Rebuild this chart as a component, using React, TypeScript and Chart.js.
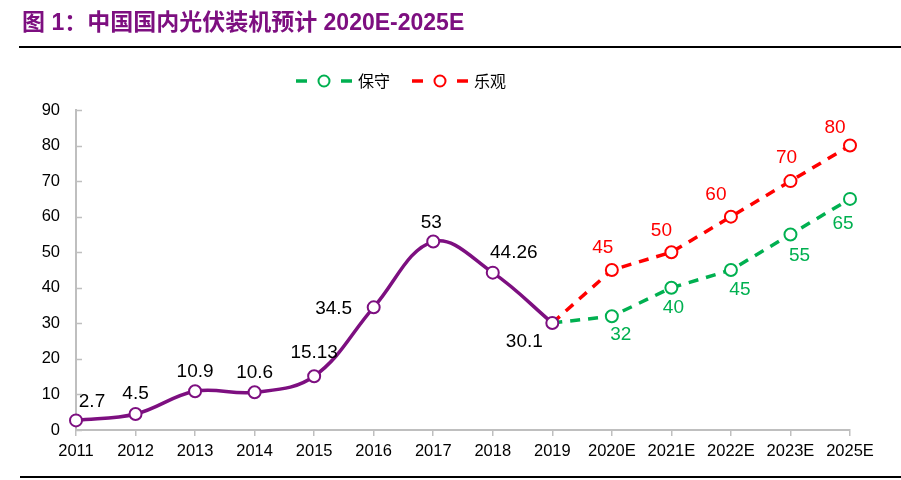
import React, { useEffect, useRef } from "react";
import { Chart, registerables } from "chart.js";

Chart.register(...registerables);

// ---------- data ----------
const categories = [
  "2011", "2012", "2013", "2014", "2015", "2016", "2017", "2018", "2019",
  "2020E", "2021E", "2022E", "2023E", "2025E",
];
const historyValues = [2.7, 4.5, 10.9, 10.6, 15.13, 34.5, 53, 44.26, 30.1];
// forecasts start at 2019 (joined to the last actual value)
const conservativeValues = [30.1, 32, 40, 45, 55, 65];
const optimisticValues = [30.1, 45, 50, 60, 70, 80];
const seriesNames = ["实际", "保守", "乐观"];
const yMin = 0;
const yMax = 90;
const yStep = 10;

// ---------- styles ----------
const PURPLE = "#7D0F80";
const GREEN = "#00B050";
const RED = "#FF0000";
const AXIS = "#BFBFBF";
const LATIN = "'Liberation Sans', Arial, sans-serif";
const CJK = "'Noto Sans CJK SC', sans-serif";

// label offsets (px) relative to each point
const historyLabelOffsets: [number, number][] = [
  [16, -19], [0, -20], [0, -19], [0, -20], [0, -23], [-40, 1], [-2, -19], [21, -20], [-28, 19],
];
const conservativeLabelOffsets: [number, number][] = [
  [0, 0], [9, 19], [2, 20], [9, 20], [9, 21], [-7, 25],
];
const optimisticLabelOffsets: [number, number][] = [
  [0, 0], [-9, -22], [-10, -21], [-15, -22], [-4, -23], [-15, -18],
];

const forecastStart = historyValues.length - 1;

function pad(values: number[], start: number, total: number): (number | null)[] {
  const out: (number | null)[] = new Array(total).fill(null);
  values.forEach((v, i) => (out[start + i] = v));
  return out;
}

export default function App() {
  const ref = useRef<HTMLCanvasElement | null>(null);

  useEffect(() => {
    if (!ref.current) return;
    const n = categories.length;

    const labelInfo = [
      { start: 0, offsets: historyLabelOffsets, color: "#000000", skipFirst: false },
      { start: forecastStart, offsets: conservativeLabelOffsets, color: GREEN, skipFirst: true },
      { start: forecastStart, offsets: optimisticLabelOffsets, color: RED, skipFirst: true },
    ];

    const valueLabels = {
      id: "valueLabels",
      afterDatasetsDraw(chart: any) {
        const ctx = chart.ctx;
        ctx.save();
        ctx.font = `19px ${LATIN}`;
        ctx.textAlign = "center";
        ctx.textBaseline = "middle";
        chart.data.datasets.forEach((ds: any, di: number) => {
          const info = labelInfo[di];
          const meta = chart.getDatasetMeta(di);
          ctx.fillStyle = info.color;
          meta.data.forEach((el: any, idx: number) => {
            const v = ds.data[idx];
            if (v === null || v === undefined) return;
            const k = idx - info.start;
            if (info.skipFirst && k === 0) return;
            const off = info.offsets[k] || [0, -20];
            ctx.fillText(String(v), el.x + off[0], el.y + off[1]);
          });
        });
        ctx.restore();
      },
    };

    const extras = {
      id: "extras",
      afterDraw(chart: any) {
        const ctx = chart.ctx;
        const y = chart.scales.y;
        const area = chart.chartArea;
        ctx.save();
        // inward y tick marks
        ctx.strokeStyle = AXIS;
        ctx.lineWidth = 1.5;
        y.ticks.forEach((t: any) => {
          const py = Math.round(y.getPixelForValue(t.value)) + 0.5;
          ctx.beginPath();
          ctx.moveTo(area.left, py);
          ctx.lineTo(area.left + 6, py);
          ctx.stroke();
        });
        // legend
        const items = [
          { color: GREEN, text: seriesNames[1], x: 296 },
          { color: RED, text: seriesNames[2], x: 412 },
        ];
        const ly = 81;
        items.forEach((it) => {
          ctx.strokeStyle = it.color;
          ctx.lineWidth = 3.5;
          ctx.beginPath();
          ctx.moveTo(it.x, ly);
          ctx.lineTo(it.x + 11, ly);
          ctx.moveTo(it.x + 45, ly);
          ctx.lineTo(it.x + 56, ly);
          ctx.stroke();
          ctx.lineWidth = 2;
          ctx.fillStyle = "#fff";
          ctx.beginPath();
          ctx.arc(it.x + 28, ly, 5.5, 0, Math.PI * 2);
          ctx.fill();
          ctx.stroke();
          ctx.fillStyle = "#000";
          ctx.font = `16px ${CJK}`;
          ctx.textAlign = "left";
          ctx.textBaseline = "middle";
          ctx.fillText(it.text, it.x + 62, ly);
        });
        ctx.restore();
      },
    };

    const pointRadii = (start: number, len: number, hideFirst: boolean) =>
      new Array(n).fill(0).map((_, i) => (i >= start && i < start + len && !(hideFirst && i === start) ? 6 : 0));

    const chart = new Chart(ref.current, {
      type: "line",
      data: {
        labels: categories,
        datasets: [
          {
            label: seriesNames[0],
            data: pad(historyValues, 0, n),
            borderColor: PURPLE,
            borderWidth: 3.5,
            tension: 0.38,
            pointRadius: pointRadii(0, historyValues.length, false),
            pointBackgroundColor: "#ffffff",
            pointBorderColor: PURPLE,
            pointBorderWidth: 2,
            clip: false,
          } as any,
          {
            label: seriesNames[1],
            data: pad(conservativeValues, forecastStart, n),
            borderColor: GREEN,
            borderWidth: 3.5,
            borderDash: [10, 8],
            tension: 0,
            pointRadius: pointRadii(forecastStart, conservativeValues.length, true),
            pointBackgroundColor: "#ffffff",
            pointBorderColor: GREEN,
            pointBorderWidth: 2,
            clip: false,
          } as any,
          {
            label: seriesNames[2],
            data: pad(optimisticValues, forecastStart, n),
            borderColor: RED,
            borderWidth: 3.5,
            borderDash: [10, 8],
            tension: 0,
            pointRadius: pointRadii(forecastStart, optimisticValues.length, true),
            pointBackgroundColor: "#ffffff",
            pointBorderColor: RED,
            pointBorderWidth: 2,
            clip: false,
          } as any,
        ],
      },
      options: {
        responsive: false,
        animation: false,
        devicePixelRatio: 1,
        layout: { padding: { left: 0, right: 51, top: 110, bottom: 0 } },
        plugins: {
          legend: { display: false },
          tooltip: { enabled: false },
        },
        scales: {
          x: {
            type: "category",
            offset: false,
            grid: {
              display: true,
              drawOnChartArea: false,
              drawTicks: true,
              tickLength: 6,
              color: AXIS,
              lineWidth: 1.5,
              offset: false,
            },
            border: { display: true, color: AXIS, width: 2 },
            ticks: {
              color: "#000",
              font: { family: LATIN, size: 16.5 },
              padding: 6,
              maxRotation: 0,
              autoSkip: false,
            },
            afterFit: (s: any) => {
              s.height = 50;
            },
          },
          y: {
            min: yMin,
            max: yMax,
            grid: { display: false, drawTicks: false },
            border: { display: true, color: AXIS, width: 2 },
            ticks: {
              stepSize: yStep,
              color: "#000",
              font: { family: LATIN, size: 16.5 },
              padding: 16,
            },
            afterFit: (s: any) => {
              s.width = 76;
            },
          },
        },
      } as any,
      plugins: [valueLabels, extras],
    });
    return () => chart.destroy();
  }, []);

  return (
    <div style={{ position: "absolute", left: 0, top: 0, width: 901, height: 480, background: "#fff", overflow: "hidden" }}>
      <canvas ref={ref} width={901} height={480} style={{ position: "absolute", left: 0, top: 0, width: 901, height: 480 }} />
      <div
        style={{
          position: "absolute",
          left: 22,
          top: 6,
          fontFamily: `${LATIN.split(",")[0]}, ${CJK}`,
          fontWeight: "bold",
          fontSize: 23,
          lineHeight: "32px",
          color: PURPLE,
          whiteSpace: "nowrap",
        }}
      >
        图 1：中国国内光伏装机预计 2020E-2025E
      </div>
      <div style={{ position: "absolute", left: 19, top: 46, width: 882, height: 2, background: "#000" }} />
      <div style={{ position: "absolute", left: 20, top: 476, width: 881, height: 2, background: "#000" }} />
    </div>
  );
}
